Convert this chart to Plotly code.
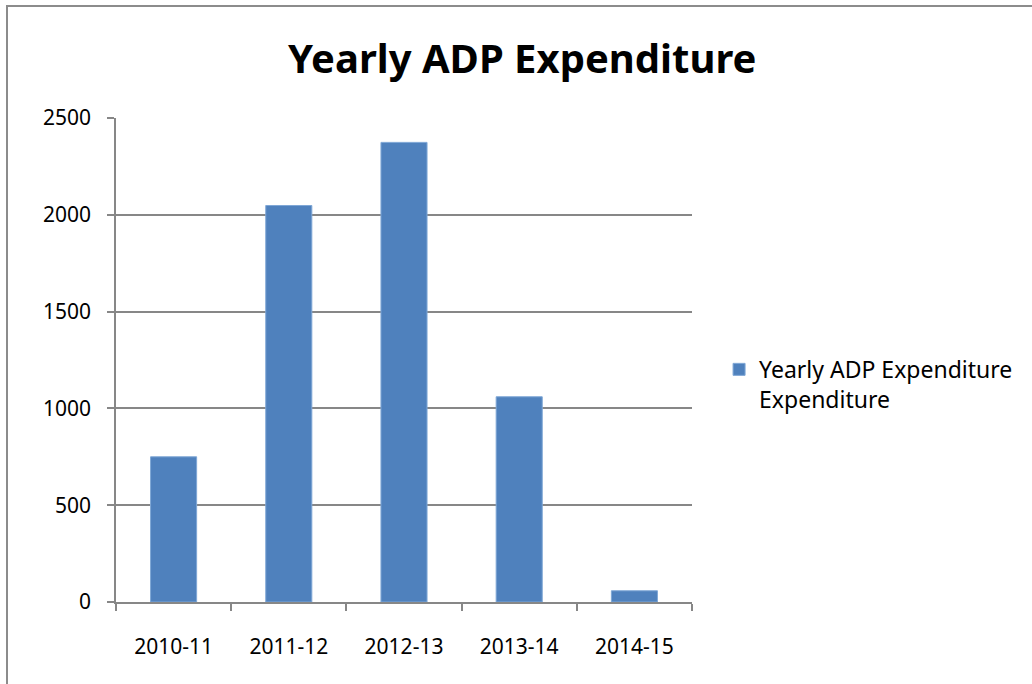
import plotly.graph_objects as go

categories = ["2010-11", "2011-12", "2012-13", "2013-14", "2014-15"]
values = [750, 2048, 2374, 1060, 58]
series_name = "Yearly ADP Expenditure<br>Expenditure"
title_text = "Yearly ADP Expenditure"

FONT = "Noto Sans, Open Sans, sans-serif"
GRID = "#878787"

fig = go.Figure()
fig.add_trace(go.Bar(
    x=categories, y=values, name=series_name,
    marker=dict(color="#4F81BD", line=dict(color="#7FA7D6", width=1)),
    showlegend=True,
))

fig.update_layout(
    width=1032, height=684,
    margin=dict(l=116, r=340, t=118, b=82),
    paper_bgcolor="white", plot_bgcolor="white",
    bargap=0.6,
    font=dict(family=FONT, size=20, color="black"),
    title=dict(text="<b>" + title_text + "</b>", x=0.506, xanchor="center",
               y=0.914, yanchor="middle", font=dict(size=40, family=FONT, color="black")),
    showlegend=True,
    legend=dict(x=1.047, xanchor="left", y=0.525, yanchor="top", valign="top",
                font=dict(size=23, family=FONT, color="black"),
                itemwidth=30, bgcolor="rgba(0,0,0,0)"),
    xaxis=dict(type="category", showline=True, linecolor=GRID, linewidth=1.5,
               ticks="outside", tickson="boundaries", ticklen=7, tickcolor=GRID, tickwidth=1.5,
               showgrid=False, ticklabelstandoff=25,
               tickfont=dict(size=21, family=FONT, color="black")),
    yaxis=dict(range=[0, 2500], dtick=500, showline=True, linecolor=GRID, linewidth=1.5,
               ticks="outside", ticklen=7, tickcolor=GRID, tickwidth=1.5,
               showgrid=True, gridcolor=GRID, gridwidth=1.5, zeroline=False,
               ticklabelstandoff=12,
               tickfont=dict(size=21, family=FONT, color="black")),
    shapes=[dict(type="rect", xref="paper", yref="paper",
                 x0=(7 - 116) / 576, x1=2.0, y0=-0.5, y1=(602 - 6) / 484,
                 line=dict(color="#8c8c8c", width=2), fillcolor="rgba(0,0,0,0)", layer="below")],
)

fig.write_html("out.html", config={"displayModeBar": False},
               post_script="document.body.style.margin='0';")
